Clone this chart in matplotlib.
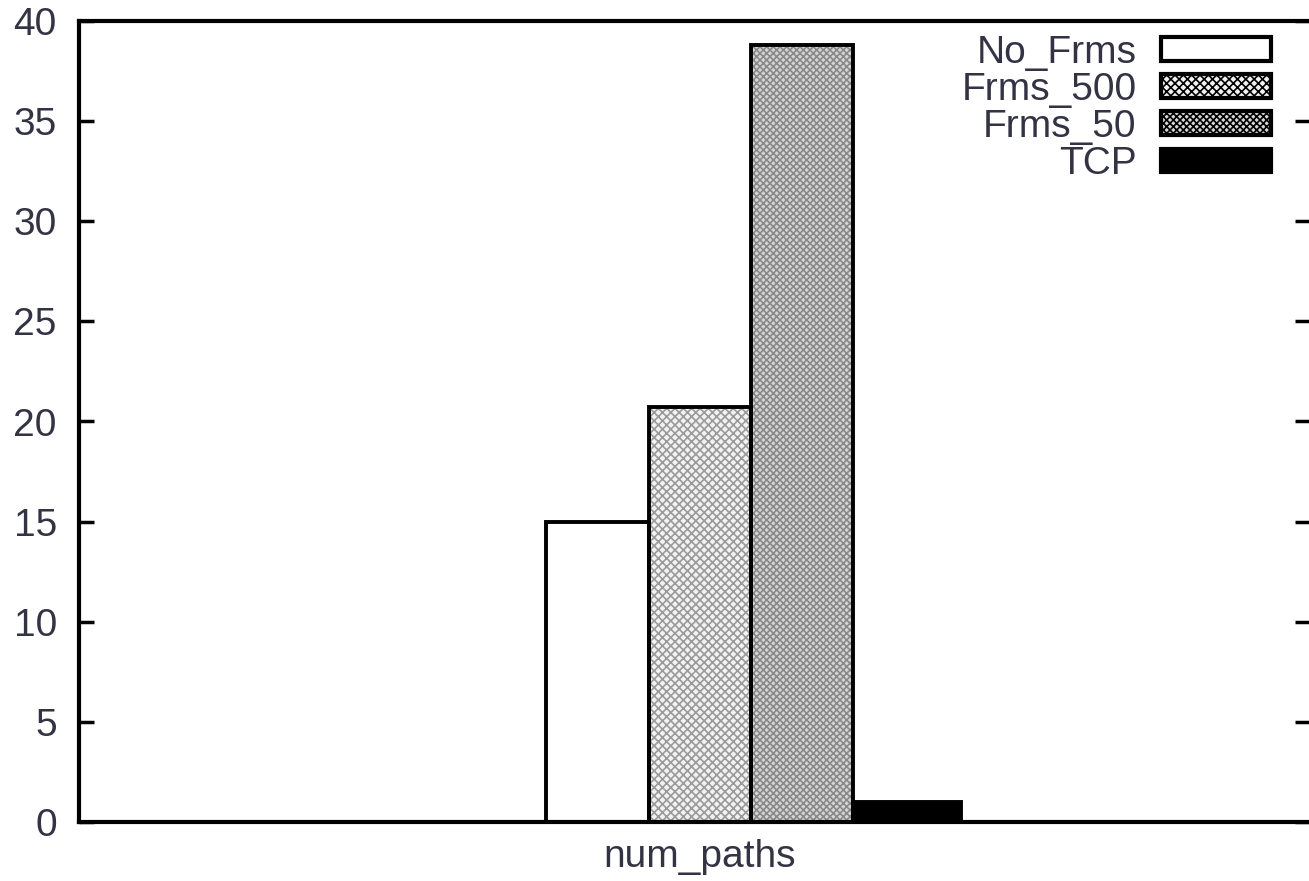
import matplotlib
matplotlib.use("Agg")
import matplotlib.pyplot as plt

series = ["No_Frms", "Frms_500", "Frms_50", "TCP"]
values = [15.0, 20.7, 38.8, 1.0]
category = "num_paths"

offsets = [-1.0, 0.0, 1.0, 2.03]
widths = [1.0, 1.0, 1.0, 1.06]
faces = ["white", "#f2f2f2", "#d6d6d6", "black"]
hatch_cols = [None, "#9a9a9a", "#8a8a8a", None]
hatches = [None, "xxxx", "xxxxx", None]

plt.rcParams["font.family"] = ["Liberation Sans", "DejaVu Sans"]
plt.rcParams["hatch.linewidth"] = 1.2

fig = plt.figure(figsize=(13.09, 8.81), dpi=100)
ax = fig.add_axes([79 / 1309, 1 - 822 / 881, 1231 / 1309, 801 / 881])

handles = []
for lab, v, off, w, fc, hc, h in zip(series, values, offsets, widths,
                                     faces, hatch_cols, hatches):
    # pattern first, outline on top
    if h:
        ax.bar(off, v, width=w, color=fc, edgecolor=hc, hatch=h,
               linewidth=0, zorder=2)
    ax.bar(off, v, width=w, fill=(fc == "black"), facecolor=fc,
           edgecolor="black", linewidth=2.8, zorder=3)
    handles.append(plt.Rectangle((0, 0), 1, 1, facecolor=fc,
                                 edgecolor="black", linewidth=3, hatch=h))

ax.set_xlim(-6.08, 5.98)
ax.set_ylim(0, 40)
ax.set_yticks(range(0, 41, 5))
ax.set_xticks([0])
ax.set_xticklabels([category])

for s in ["left", "bottom", "top"]:
    ax.spines[s].set_linewidth(3)
ax.spines["right"].set_visible(False)

ax.tick_params(axis="y", direction="in", length=11, width=2.5,
               labelsize=28, pad=16, right=True, colors="black",
               labelcolor="#333344")
ax.tick_params(axis="x", length=0, labelsize=28, pad=12,
               labelcolor="#333344")

leg = ax.legend(handles, series, loc="upper right", frameon=False,
                markerfirst=False, fontsize=28, handlelength=2.83,
                handleheight=0.55, handletextpad=0.64, labelspacing=0.03,
                borderaxespad=0, bbox_to_anchor=(1287 / 1309, 1 - 19 / 881),
                bbox_transform=fig.transFigure)
for t in leg.get_texts():
    t.set_color("#333344")

fig.savefig("out.png", dpi=100)
